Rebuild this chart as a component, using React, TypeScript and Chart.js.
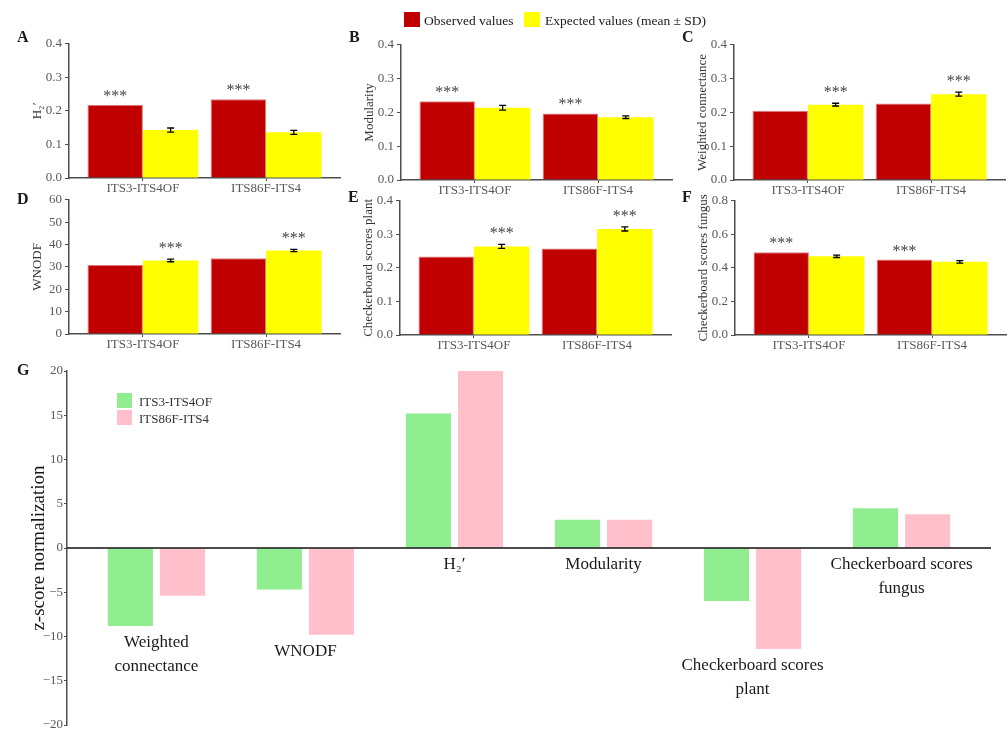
import React, { useEffect, useRef } from "react";
import { Chart, registerables } from "chart.js";

Chart.register(...registerables);

const SERIF = "'Liberation Serif', 'Times New Roman', Times, serif";

// ---------------- data ----------------
const primerPairs = ["ITS3-ITS4OF", "ITS86F-ITS4"];
const seriesNames = ["Observed values", "Expected values (mean ± SD)"];
const zSeriesNames = ["ITS3-ITS4OF", "ITS86F-ITS4"];

const h2Observed = [0.218, 0.235];
const h2Expected = [0.143, 0.136];
const h2SD = [0.006, 0.006];

const modularityObserved = [0.233, 0.197];
const modularityExpected = [0.214, 0.186];
const modularitySD = [0.007, 0.004];

const connectanceObserved = [0.205, 0.226];
const connectanceExpected = [0.223, 0.254];
const connectanceSD = [0.004, 0.006];

const wnodfObserved = [30.8, 33.9];
const wnodfExpected = [32.9, 37.3];
const wnodfSD = [0.6, 0.5];

const cPlantObserved = [0.234, 0.258];
const cPlantExpected = [0.264, 0.316];
const cPlantSD = [0.006, 0.006];

const cFungusObserved = [0.493, 0.45];
const cFungusExpected = [0.469, 0.436];
const cFungusSD = [0.007, 0.007];

const zMetricLabels = [
  ["Weighted", "connectance"],
  ["WNODF"],
  ["H\u2082\u2032"],
  ["Modularity"],
  ["Checkerboard scores", "plant"],
  ["Checkerboard scores", "fungus"],
];
const zITS3 = [-8.8, -4.7, 15.2, 3.2, -6.0, 4.5];
const zITS86F = [-5.4, -9.8, 20.0, 3.2, -11.4, 3.8];

const significance = "***";

// ---------------- styles ----------------
const RED = "#C00000";
const RED_EDGE = "#E27A7A";
const YELLOW = "#FFFF00";
const GREEN = "#90EE90";
const PINK = "#FFC0CB";
const AXIS = "#4d4d4d";
const TICK_TEXT = "#595959";

const ML = 42; // y-axis box width
const MT = 10;
const MR = 6;
const MB = 24; // x-axis box height
const AREA_W = 271;

const smallPanels = [
  { id: "A", axisX: 69, top: 43, bottom: 178, title: "H\u2082\u2032", max: 0.4, step: 0.1, dec: 1, obs: h2Observed, exp: h2Expected, sd: h2SD },
  { id: "B", axisX: 401, top: 44, bottom: 180, title: "Modularity", max: 0.4, step: 0.1, dec: 1, obs: modularityObserved, exp: modularityExpected, sd: modularitySD },
  { id: "C", axisX: 734, top: 44, bottom: 180, title: "Weighted connectance", max: 0.4, step: 0.1, dec: 1, obs: connectanceObserved, exp: connectanceExpected, sd: connectanceSD },
  { id: "D", axisX: 69, top: 199, bottom: 334, title: "WNODF", max: 60, step: 10, dec: 0, obs: wnodfObserved, exp: wnodfExpected, sd: wnodfSD },
  { id: "E", axisX: 400, top: 200, bottom: 335, title: "Checkerboard scores plant", max: 0.4, step: 0.1, dec: 1, obs: cPlantObserved, exp: cPlantExpected, sd: cPlantSD },
  { id: "F", axisX: 735, top: 200, bottom: 335, title: "Checkerboard scores fungus", max: 0.8, step: 0.2, dec: 1, obs: cFungusObserved, exp: cFungusExpected, sd: cFungusSD },
];

// ---------------- plugins ----------------
const errorBarPlugin = {
  id: "errorBars",
  afterDatasetsDraw(chart: any, _args: any, opts: any) {
    const { ctx } = chart;
    const y = chart.scales.y;
    const meta = chart.getDatasetMeta(1);
    ctx.save();
    ctx.strokeStyle = "#000";
    ctx.lineWidth = 1.3;
    meta.data.forEach((bar: any, i: number) => {
      const v = opts.exp[i];
      const yTop = y.getPixelForValue(v + opts.sd[i]);
      const yBot = y.getPixelForValue(v - opts.sd[i]);
      const cap = 3.5;
      ctx.beginPath();
      ctx.moveTo(bar.x, yTop);
      ctx.lineTo(bar.x, yBot);
      ctx.moveTo(bar.x - cap, yTop);
      ctx.lineTo(bar.x + cap, yTop);
      ctx.moveTo(bar.x - cap, yBot);
      ctx.lineTo(bar.x + cap, yBot);
      ctx.stroke();
    });
    ctx.restore();
  },
};

const starPlugin = {
  id: "stars",
  afterDatasetsDraw(chart: any, _args: any, opts: any) {
    const { ctx } = chart;
    const y = chart.scales.y;
    const obsMeta = chart.getDatasetMeta(0);
    const expMeta = chart.getDatasetMeta(1);
    ctx.save();
    ctx.fillStyle = "#444";
    ctx.font = `16px ${SERIF}`;
    ctx.textAlign = "center";
    ctx.textBaseline = "alphabetic";
    opts.obs.forEach((o: number, i: number) => {
      const eTop = opts.exp[i] + opts.sd[i];
      const useObs = o >= eTop;
      const bar = (useObs ? obsMeta : expMeta).data[i];
      const top = y.getPixelForValue(useObs ? o : eTop);
      ctx.fillText(significance, bar.x, top - (useObs ? 4 : 6));
    });
    ctx.restore();
  },
};

const zDecorPlugin = {
  id: "zDecor",
  afterDatasetsDraw(chart: any) {
    const { ctx, chartArea } = chart;
    const x = chart.scales.x;
    const y = chart.scales.y;
    const y0 = y.getPixelForValue(0);
    ctx.save();
    ctx.strokeStyle = "#111";
    ctx.lineWidth = 1.5;
    ctx.beginPath();
    ctx.moveTo(chartArea.left, y0);
    ctx.lineTo(chartArea.right, y0);
    ctx.stroke();
    ctx.fillStyle = "#1a1a1a";
    ctx.font = `17px ${SERIF}`;
    ctx.textAlign = "center";
    ctx.textBaseline = "middle";
    zMetricLabels.forEach((lines, i) => {
      const low = Math.min(0, zITS3[i], zITS86F[i]);
      const yStart = y.getPixelForValue(low - 1.9);
      const xc = x.getPixelForValue(i);
      lines.forEach((ln, j) => ctx.fillText(ln, xc, yStart + j * 24));
    });
    ctx.restore();
  },
};

// ---------------- components ----------------
function SmallPanel({ spec }: { spec: any }) {
  const ref = useRef<HTMLCanvasElement | null>(null);
  const h = MT + (spec.bottom - spec.top) + MB;
  const w = ML + AREA_W + MR;
  useEffect(() => {
    const chart = new Chart(ref.current as HTMLCanvasElement, {
      type: "bar",
      data: {
        datasets: [
          {
            label: seriesNames[0],
            data: spec.obs.map((v: number, i: number) => ({ x: i, y: v })),
            backgroundColor: RED,
            borderColor: RED_EDGE,
            borderWidth: 1,
            categoryPercentage: 0.9,
            barPercentage: 1.0,
          },
          {
            label: seriesNames[1],
            data: spec.exp.map((v: number, i: number) => ({ x: i, y: v })),
            backgroundColor: YELLOW,
            borderWidth: 0,
            categoryPercentage: 0.9,
            barPercentage: 1.0,
          },
        ],
      } as any,
      options: {
        animation: false,
        responsive: false,
        maintainAspectRatio: false,
        layout: { padding: { top: MT, right: MR, left: 0, bottom: 0 } },
        plugins: {
          legend: { display: false },
          tooltip: { enabled: false },
          errorBars: { exp: spec.exp, sd: spec.sd },
          stars: { obs: spec.obs, exp: spec.exp, sd: spec.sd },
        } as any,
        scales: {
          x: {
            type: "linear",
            min: -0.6,
            max: 1.6,
            offset: false,
            afterBuildTicks: (s: any) => {
              s.ticks = primerPairs.map((_, i) => ({ value: i }));
            },
            afterFit: (s: any) => {
              s.height = MB;
            },
            ticks: {
              callback: (v: any) => primerPairs[Math.round(Number(v))] ?? "",
              font: { family: SERIF, size: 13 },
              color: TICK_TEXT,
              padding: 0,
              maxRotation: 0,
              autoSkip: false,
            },
            grid: { display: true, drawOnChartArea: false, drawTicks: true, tickLength: 3, color: AXIS, offset: false },
            border: { display: true, color: AXIS, width: 1.5 },
          },
          y: {
            type: "linear",
            min: 0,
            max: spec.max,
            afterFit: (s: any) => {
              s.width = ML;
            },
            ticks: {
              stepSize: spec.step,
              callback: (v: any) => Number(v).toFixed(spec.dec),
              font: { family: SERIF, size: 13 },
              color: TICK_TEXT,
              padding: 3,
            },
            grid: { display: true, drawOnChartArea: false, drawTicks: true, tickLength: 4, color: AXIS },
            border: { display: true, color: AXIS, width: 1.5 },
            title: {
              display: true,
              text: spec.title,
              font: { family: SERIF, size: 13 },
              color: "#333",
              padding: { top: 3, bottom: 0 },
            },
          },
        } as any,
      },
      plugins: [errorBarPlugin, starPlugin],
    } as any);
    return () => chart.destroy();
  }, []);
  return (
    <canvas
      ref={ref}
      width={w}
      height={h}
      style={{ position: "absolute", left: spec.axisX - ML, top: spec.top - MT, width: w, height: h }}
    />
  );
}

const G_LEFT = 0;
const G_TOP = 360;
const G_AXIS_X = 67;
const G_AREA_TOP = 371;
const G_AREA_BOTTOM = 725;
const G_AREA_RIGHT = 991;
const G_PAD_B = 10;

function ZPanel() {
  const ref = useRef<HTMLCanvasElement | null>(null);
  const w = G_AREA_RIGHT + 9 - G_LEFT;
  const h = G_AREA_BOTTOM + G_PAD_B - G_TOP;
  useEffect(() => {
    const chart = new Chart(ref.current as HTMLCanvasElement, {
      type: "bar",
      data: {
        datasets: [
          {
            label: zSeriesNames[0],
            data: zITS3.map((v, i) => ({ x: i, y: v })),
            backgroundColor: GREEN,
            borderWidth: 0,
            categoryPercentage: 0.7,
            barPercentage: 0.865,
          },
          {
            label: zSeriesNames[1],
            data: zITS86F.map((v, i) => ({ x: i, y: v })),
            backgroundColor: PINK,
            borderWidth: 0,
            categoryPercentage: 0.7,
            barPercentage: 0.865,
          },
        ],
      } as any,
      options: {
        animation: false,
        responsive: false,
        maintainAspectRatio: false,
        layout: { padding: { top: G_AREA_TOP - G_TOP, right: 9, left: 0, bottom: G_PAD_B } },
        plugins: { legend: { display: false }, tooltip: { enabled: false } },
        scales: {
          x: {
            type: "linear",
            display: false,
            min: -0.6,
            max: zMetricLabels.length - 0.4,
            offset: false,
            afterBuildTicks: (s: any) => {
              s.ticks = zMetricLabels.map((_, i) => ({ value: i }));
            },
            grid: { offset: false },
          },
          y: {
            type: "linear",
            min: -20,
            max: 20,
            afterFit: (s: any) => {
              s.width = G_AXIS_X - G_LEFT;
            },
            ticks: {
              stepSize: 5,
              callback: (v: any) => (Number(v) < 0 ? "\u2212" + Math.abs(Number(v)) : String(v)),
              font: { family: SERIF, size: 13 },
              color: TICK_TEXT,
              padding: 1,
            },
            grid: { display: true, drawOnChartArea: false, drawTicks: true, tickLength: 3, color: AXIS },
            border: { display: true, color: AXIS, width: 1.5 },
            title: {
              display: true,
              text: "z-score normalization",
              font: { family: SERIF, size: 19 },
              color: "#1a1a1a",
              padding: { top: 27.6, bottom: 0 },
            },
          },
        } as any,
      },
      plugins: [zDecorPlugin],
    } as any);
    return () => chart.destroy();
  }, []);
  return (
    <canvas
      ref={ref}
      width={w}
      height={h}
      style={{ position: "absolute", left: G_LEFT, top: G_TOP, width: w, height: h }}
    />
  );
}

function Txt({ x, base, size, bold, color, children }: any) {
  return (
    <div
      style={{
        position: "absolute",
        left: x,
        top: base - 0.8375 * size,
        fontFamily: SERIF,
        fontSize: size,
        lineHeight: `${size}px`,
        fontWeight: bold ? "bold" : "normal",
        color: color || "#1a1a1a",
        whiteSpace: "nowrap",
      }}
    >
      {children}
    </div>
  );
}

function Swatch({ x, y, w, h, color }: any) {
  return <div style={{ position: "absolute", left: x, top: y, width: w, height: h, background: color }} />;
}

const panelLetters = [
  { t: "A", x: 17, b: 42.3 },
  { t: "B", x: 349, b: 42.7 },
  { t: "C", x: 682, b: 42.7 },
  { t: "D", x: 17, b: 204 },
  { t: "E", x: 348, b: 202.7 },
  { t: "F", x: 682, b: 202.7 },
  { t: "G", x: 17, b: 375 },
];

export default function App() {
  return (
    <div
      style={{
        position: "fixed",
        left: 0,
        top: 0,
        width: 1008,
        height: 729,
        overflow: "hidden",
        background: "#fff",
      }}
    >
      {smallPanels.map((p) => (
        <SmallPanel key={p.id} spec={p} />
      ))}
      <ZPanel />
      {panelLetters.map((l) => (
        <Txt key={l.t} x={l.x} base={l.b} size={16} bold>
          {l.t}
        </Txt>
      ))}
      {/* top legend */}
      <Swatch x={404} y={12} w={16} h={15} color={RED} />
      <Txt x={424} base={25} size={13.5}>
        {seriesNames[0]}
      </Txt>
      <Swatch x={524} y={12} w={16} h={15} color={YELLOW} />
      <Txt x={545} base={25} size={13.5}>
        {seriesNames[1]}
      </Txt>
      {/* G legend */}
      <Swatch x={117} y={393} w={15} h={15} color={GREEN} />
      <Txt x={139} base={405.7} size={13} color="#333">
        {zSeriesNames[0]}
      </Txt>
      <Swatch x={117} y={410} w={15} h={15} color={PINK} />
      <Txt x={139} base={422.7} size={13} color="#333">
        {zSeriesNames[1]}
      </Txt>
    </div>
  );
}
